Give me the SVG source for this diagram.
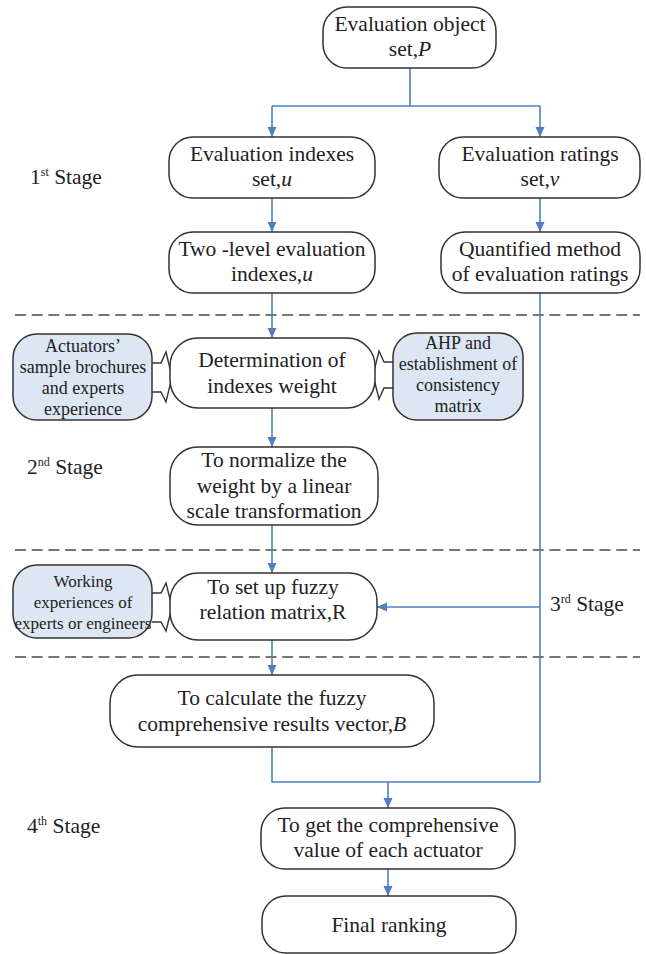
<svg xmlns="http://www.w3.org/2000/svg" width="646" height="954" viewBox="0 0 646 954">
<style>
.node{fill:#fff;stroke:#333;stroke-width:1.5}
.side{fill:#dde6f3;stroke:#333;stroke-width:1.5}
.bk{fill:#fff;stroke:#333;stroke-width:1.4;stroke-linejoin:miter}
text{font-family:'Liberation Serif','DejaVu Serif',serif;fill:#222}
.t{font-size:21.5px;text-anchor:middle}
.s{font-size:18px;text-anchor:middle}
.st{font-size:21.5px}
.sup{font-size:12px}
.c{fill:none;stroke:#4f7fc0;stroke-width:1.6}
.dash{stroke:#777;stroke-width:2;stroke-dasharray:11 5.7}
</style>
<defs>
<marker id="ah" markerUnits="userSpaceOnUse" markerWidth="10" markerHeight="10" refX="10" refY="5" orient="auto">
<path d="M0,0.5 L10,5 L0,9.5 z" fill="#4f7fc0"/>
</marker>
</defs>
<rect width="646" height="954" fill="#fff"/>

<g id="dividers">
<line class="dash" x1="15" y1="315" x2="640" y2="315"/>
<line class="dash" x1="15" y1="550" x2="640" y2="550"/>
<line class="dash" x1="15" y1="657" x2="640" y2="657"/>
</g>

<g id="stage-labels">
<text class="st" x="30" y="184">1<tspan class="sup" dy="-8">st</tspan><tspan dy="8"> Stage</tspan></text>
<text class="st" x="27" y="474">2<tspan class="sup" dy="-8">nd</tspan><tspan dy="8"> Stage</tspan></text>
<text class="st" x="550" y="611">3<tspan class="sup" dy="-8">rd</tspan><tspan dy="8"> Stage</tspan></text>
<text class="st" x="27" y="833">4<tspan class="sup" dy="-8">th</tspan><tspan dy="8"> Stage</tspan></text>
</g>

<g id="connectors">
<path class="c" d="M410,68 V106"/>
<path class="c" d="M272,106 H540"/>
<path class="c" d="M272,106 V137" marker-end="url(#ah)"/>
<path class="c" d="M540,106 V137" marker-end="url(#ah)"/>
<path class="c" d="M272,198 V232" marker-end="url(#ah)"/>
<path class="c" d="M540,198 V232" marker-end="url(#ah)"/>
<path class="c" d="M272,293 V338" marker-end="url(#ah)"/>
<path class="c" d="M272,408 V447" marker-end="url(#ah)"/>
<path class="c" d="M272,525 V573" marker-end="url(#ah)"/>
<path class="c" d="M540,293 V782"/>
<path class="c" d="M540,607 H377" marker-end="url(#ah)"/>
<path class="c" d="M272,640 V675" marker-end="url(#ah)"/>
<path class="c" d="M272,747 V782 H540"/>
<path class="c" d="M388,782 V808" marker-end="url(#ah)"/>
<path class="c" d="M388,869 V896" marker-end="url(#ah)"/>
<path class="bk" d="M152,363 H161 L166,352 L172,377 L166,402 L161,392 H152"/>
<path class="bk" d="M393,362 H384 L379,351 L373,375 L379,399 L384,388 H393"/>
<path class="bk" d="M152,593 H161 L166,583 L172,607 L166,631 L161,622 H152"/>
</g>

<g id="n-object">
<rect class="node" x="323" y="7" width="173" height="61" rx="24"/>
<text class="t" x="410" y="31">Evaluation object</text>
<text class="t" x="410" y="56">set,<tspan font-style="italic">P</tspan></text>
</g>

<g id="n-indexes">
<rect class="node" x="169" y="137" width="206" height="61" rx="24"/>
<text class="t" x="272" y="161">Evaluation indexes</text>
<text class="t" x="272" y="186">set,<tspan font-style="italic">u</tspan></text>
</g>

<g id="n-ratings">
<rect class="node" x="439" y="137" width="201" height="61" rx="24"/>
<text class="t" x="540" y="161">Evaluation ratings</text>
<text class="t" x="540" y="186">set,<tspan font-style="italic">v</tspan></text>
</g>

<g id="n-twolevel">
<rect class="node" x="169" y="232" width="206" height="61" rx="24"/>
<text class="t" x="272" y="256">Two -level evaluation</text>
<text class="t" x="272" y="281">indexes,<tspan font-style="italic">u</tspan></text>
</g>

<g id="n-quantified">
<rect class="node" x="441" y="232" width="199" height="61" rx="24"/>
<text class="t" x="540" y="256">Quantified method</text>
<text class="t" x="540" y="281">of evaluation ratings</text>
</g>

<g id="n-actuators">
<rect class="side" x="13" y="334" width="139" height="86" rx="24"/>
<text class="s" x="83" y="352">Actuators’</text>
<text class="s" x="83" y="373">sample brochures</text>
<text class="s" x="83" y="394">and experts</text>
<text class="s" x="83" y="415">experience</text>
</g>

<g id="n-weight">
<rect class="node" x="170" y="338" width="205" height="70" rx="28"/>
<text class="t" x="272" y="367">Determination of</text>
<text class="t" x="272" y="393">indexes weight</text>
</g>

<g id="n-ahp">
<rect class="side" x="393" y="333" width="130" height="87" rx="24"/>
<text class="s" x="458" y="349">AHP and</text>
<text class="s" x="458" y="370">establishment of</text>
<text class="s" x="458" y="391">consistency</text>
<text class="s" x="458" y="412">matrix</text>
</g>

<g id="n-normalize">
<rect class="node" x="170" y="447" width="208" height="78" rx="28"/>
<text class="t" x="274" y="467">To normalize the</text>
<text class="t" x="274" y="493">weight  by a linear</text>
<text class="t" x="274" y="518">scale transformation</text>
</g>

<g id="n-working">
<rect class="side" x="13" y="565" width="139" height="73" rx="24"/>
<text class="s" x="83" y="587" style="font-size:17px">Working</text>
<text class="s" x="83" y="608" style="font-size:17px">experiences of</text>
<text class="s" x="83" y="629" style="font-size:17px">experts or engineers</text>
</g>

<g id="n-fuzzy">
<rect class="node" x="170" y="573" width="207" height="67" rx="28"/>
<text class="t" x="273" y="594">To set up fuzzy</text>
<text class="t" x="273" y="619">relation matrix,R</text>
</g>

<g id="n-calc">
<rect class="node" x="110" y="675" width="324" height="72" rx="28"/>
<text class="t" x="272" y="705">To calculate the fuzzy</text>
<text class="t" x="272" y="731">comprehensive results vector,<tspan font-style="italic">B</tspan></text>
</g>

<g id="n-get">
<rect class="node" x="261" y="808" width="254" height="61" rx="24"/>
<text class="t" x="388" y="832">To get the comprehensive</text>
<text class="t" x="388" y="857">value of each actuator</text>
</g>

<g id="n-final">
<rect class="node" x="262" y="896" width="254" height="57" rx="24"/>
<text class="t" x="389" y="932">Final ranking</text>
</g>
</svg>
